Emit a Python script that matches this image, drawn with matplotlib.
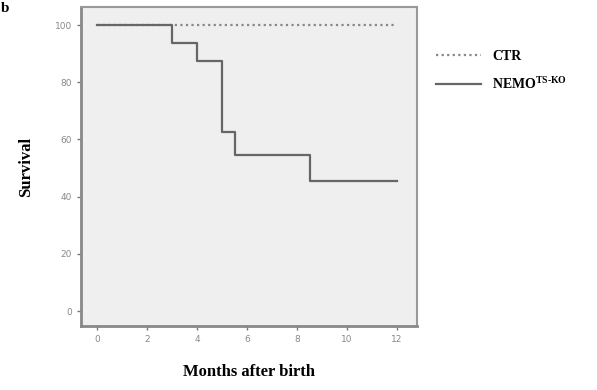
import matplotlib.pyplot as plt

plt.rcParams["mathtext.fontset"] = "custom"
plt.rcParams["mathtext.bf"] = "Liberation Serif:bold"
plt.rcParams["mathtext.rm"] = "Liberation Serif:bold"

# survival data (Kaplan-Meier steps)
ctr_months = [0, 12]
ctr_survival = [100, 100]

ko_months = [0, 3, 4, 5, 5.5, 8.5, 12]
ko_survival = [100, 93.75, 87.5, 62.5, 54.7, 45.6, 45.6]

x_ticks = [0, 2, 4, 6, 8, 10, 12]
y_ticks = [0, 20, 40, 60, 80, 100]

fig = plt.figure(figsize=(5.97, 3.90), dpi=100)
ax = fig.add_axes([0.1357, 0.164, 0.5628, 0.818])
ax.set_facecolor("#efefef")

ax.plot(ctr_months, ctr_survival, color="#888888", linestyle=(0, (1, 1.5)),
        linewidth=1.6, label="CTR")
ax.step(ko_months, ko_survival, where="post", color="#666666",
        linewidth=1.6, label="NEMO$^{\\mathrm{TS\\text{-}KO}}$")

ax.set_xlim(-0.64, 12.8)
ax.set_ylim(-5.2, 106.3)
ax.set_xticks(x_ticks)
ax.set_yticks(y_ticks)
ax.tick_params(labelsize=6.5, labelcolor="#888888", color="#777777",
               length=3, width=1)

for side in ["left", "bottom"]:
    ax.spines[side].set_color("#888888")
    ax.spines[side].set_linewidth(2)
for side in ["top", "right"]:
    ax.spines[side].set_color("#999999")
    ax.spines[side].set_linewidth(1.5)

serif = {"family": "Liberation Serif", "weight": "bold"}
ax.set_xlabel("Months after birth", fontdict=serif, fontsize=12, labelpad=14)
ax.set_ylabel("Survival", fontdict=serif, fontsize=12, labelpad=15)

leg = ax.legend(loc="upper left", bbox_to_anchor=(0.71, 0.905),
                bbox_transform=fig.transFigure, frameon=False,
                handlelength=3.2, handletextpad=0.8, labelspacing=0.9,
                prop={"family": "Liberation Serif", "weight": "bold", "size": 10})

fig.text(0.002, 0.995, "b", fontdict=serif, fontsize=11, va="top")

fig.savefig("out.png", dpi=100)
